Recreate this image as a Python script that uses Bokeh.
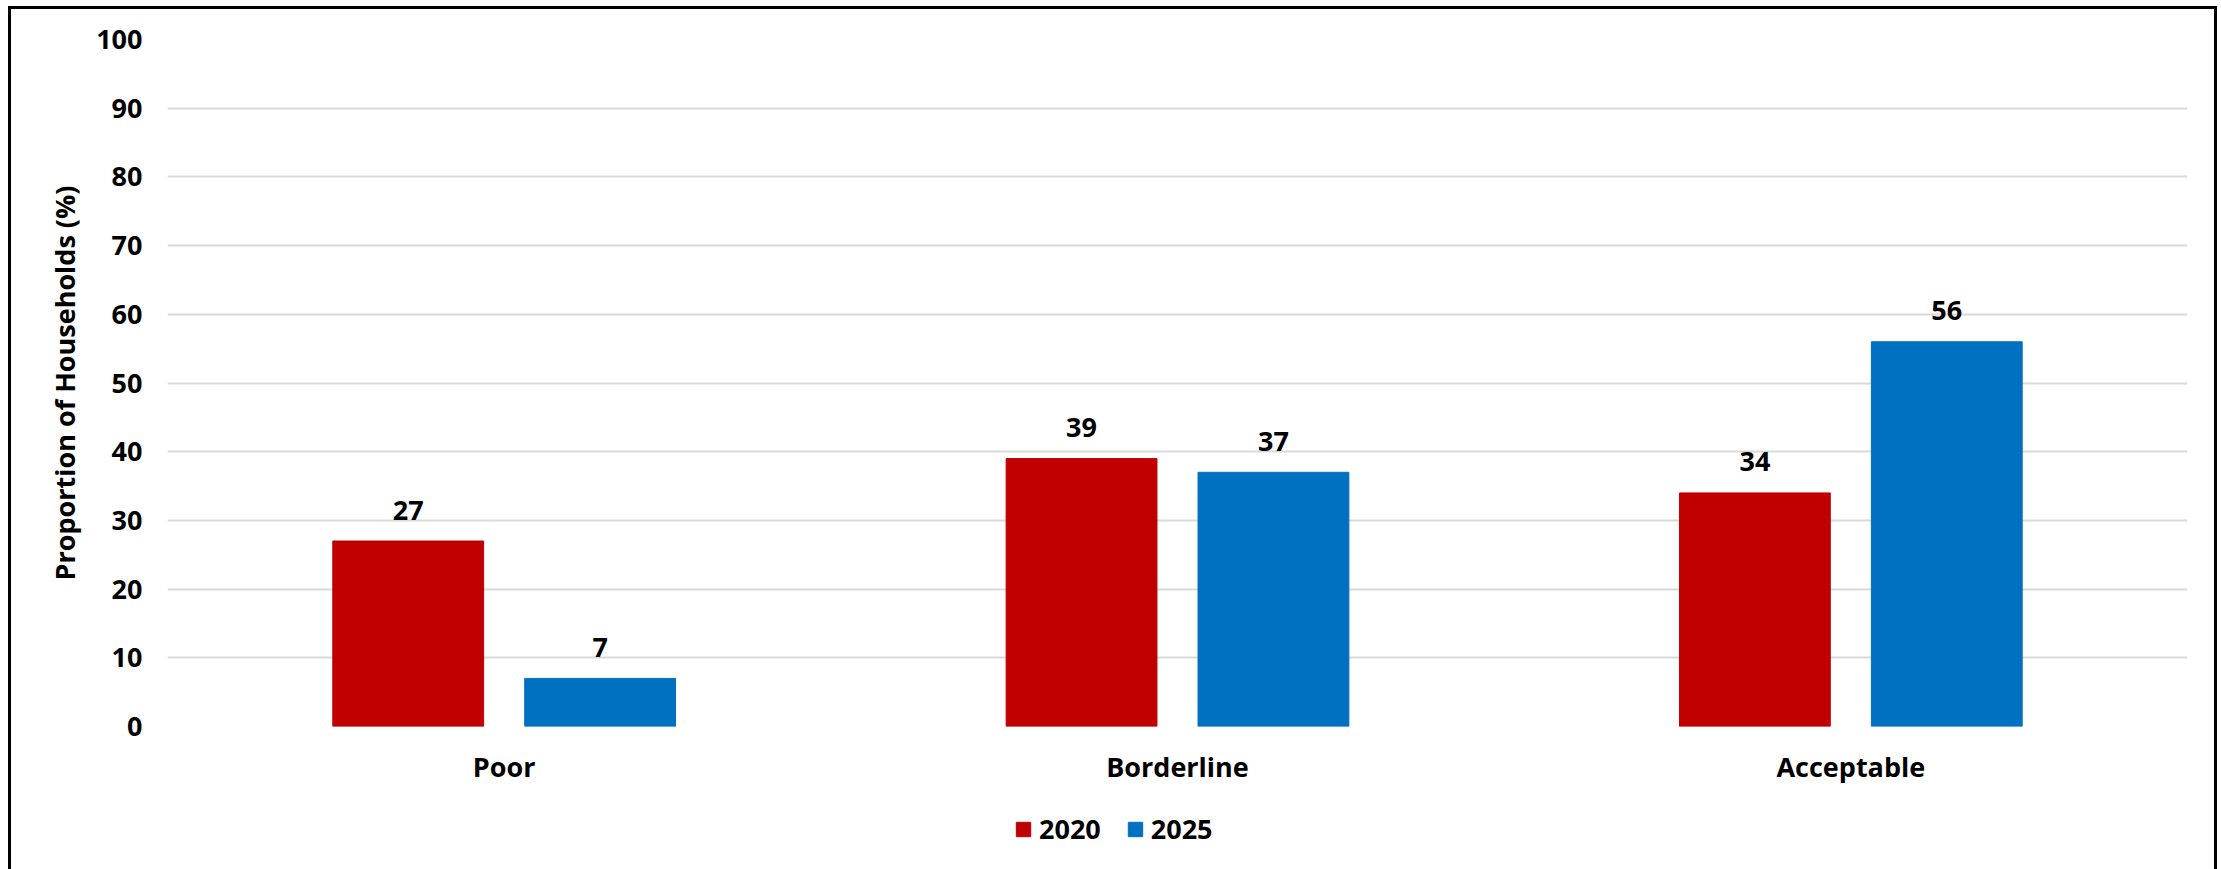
from bokeh.plotting import figure
from bokeh.layouts import column
from bokeh.models import (ColumnDataSource, FactorRange, Range1d, Legend, LegendItem,
                          FixedTicker)
from bokeh.transform import dodge
from bokeh.core.properties import value
from bokeh.embed import file_html
from bokeh.resources import INLINE

# Food consumption groups, share of households per survey year
categories = ["Poor", "Borderline", "Acceptable"]
years = ["2020", "2025"]
values_2020 = [27, 39, 34]
values_2025 = [7, 37, 56]
y_ticks = [0, 10, 20, 30, 40, 50, 60, 70, 80, 90, 100]
y_title = "Proportion of Households (%)"

FONT = "Open Sans"
FS = "27px"
RED = "#C00000"
BLUE = "#0070C0"
W = 2221
H_MAIN = 800
H_LEGEND = 69

src = ColumnDataSource(dict(
    cat=categories,
    v2020=values_2020,
    v2025=values_2025,
    t2020=[str(v) for v in values_2020],
    t2025=[str(v) for v in values_2025],
))

p = figure(width=W, height=H_MAIN,
           x_range=FactorRange(*categories), y_range=Range1d(0, 100),
           output_backend="svg", toolbar_location=None,
           min_border_left=167, min_border_right=34,
           min_border_top=39, min_border_bottom=H_MAIN - 726)

p.border_fill_color = None
p.background_fill_color = "white"
p.outline_line_color = None

p.xgrid.grid_line_color = None
p.ygrid.grid_line_color = "#d9d9d9"
p.ygrid.grid_line_width = 2

for ax in (p.xaxis[0], p.yaxis[0]):
    ax.axis_line_color = None
    ax.major_tick_line_color = None
    ax.minor_tick_line_color = None
    ax.major_tick_in = 0
    ax.major_tick_out = 0
    ax.major_label_text_font = FONT
    ax.major_label_text_font_style = "bold"
    ax.major_label_text_font_size = FS
    ax.major_label_text_color = "black"

p.yaxis.ticker = FixedTicker(ticks=y_ticks)
p.yaxis.major_label_standoff = 25
p.yaxis.axis_label = y_title
p.yaxis.axis_label_text_font = FONT
p.yaxis.axis_label_text_font_style = "bold"
p.yaxis.axis_label_text_font_size = FS
p.yaxis.axis_label_text_color = "black"
p.yaxis.axis_label_standoff = 10
p.xaxis.major_label_standoff = 21

OFF = 0.1425
BW = 0.224
p.vbar(x=dodge("cat", -OFF, range=p.x_range), top="v2020", width=BW,
       fill_color=RED, line_color=RED, source=src)
p.vbar(x=dodge("cat", OFF, range=p.x_range), top="v2025", width=BW,
       fill_color=BLUE, line_color=BLUE, source=src)

for off, col, txt in ((-OFF, "v2020", "t2020"), (OFF, "v2025", "t2025")):
    p.text(x=dodge("cat", off, range=p.x_range), y=col, text=txt, source=src,
           text_align="center", text_baseline="alphabetic", y_offset=-31,
           text_font=value(FONT), text_font_style="bold",
           text_font_size=FS, text_color="black")

# legend strip under the chart; its key renderers are hidden, only the swatches show
lg = figure(width=W, height=H_LEGEND, x_range=p.x_range, y_range=p.y_range,
            output_backend="svg", toolbar_location=None,
            x_axis_type=None, y_axis_type=None,
            min_border_left=0, min_border_right=0, min_border_top=0, min_border_bottom=0)
lg.border_fill_color = None
lg.background_fill_color = None
lg.outline_line_color = None
lg.xgrid.visible = False
lg.ygrid.visible = False
k1 = lg.vbar(x=dodge("cat", -OFF, range=p.x_range), top="v2020", width=BW,
             fill_color=RED, line_color=RED, source=src, visible=False)
k2 = lg.vbar(x=dodge("cat", OFF, range=p.x_range), top="v2025", width=BW,
             fill_color=BLUE, line_color=BLUE, source=src, visible=False)

legend = Legend(items=[LegendItem(label=years[0], renderers=[k1]),
                       LegendItem(label=years[1], renderers=[k2])],
                orientation="horizontal", location=(847, 22),
                padding=0, margin=0, border_line_color=None,
                background_fill_alpha=0, inactive_fill_alpha=0,
                glyph_width=18, glyph_height=18,
                label_standoff=7, spacing=25,
                label_text_font=FONT, label_text_font_style="bold",
                label_text_font_size=FS, label_text_color="black")
lg.add_layout(legend)

# outer chart frame (left, top and right edges) painted behind the transparent canvases
page = column(p, lg, spacing=0,
              styles={"box-shadow": ("inset 8px 6px 0 0 white, inset -4px 0 0 0 white, "
                                     "inset 11px 9px 0 0 black, inset -7px 0 0 0 black")})

open("out.html", "w").write(file_html(page, INLINE))
